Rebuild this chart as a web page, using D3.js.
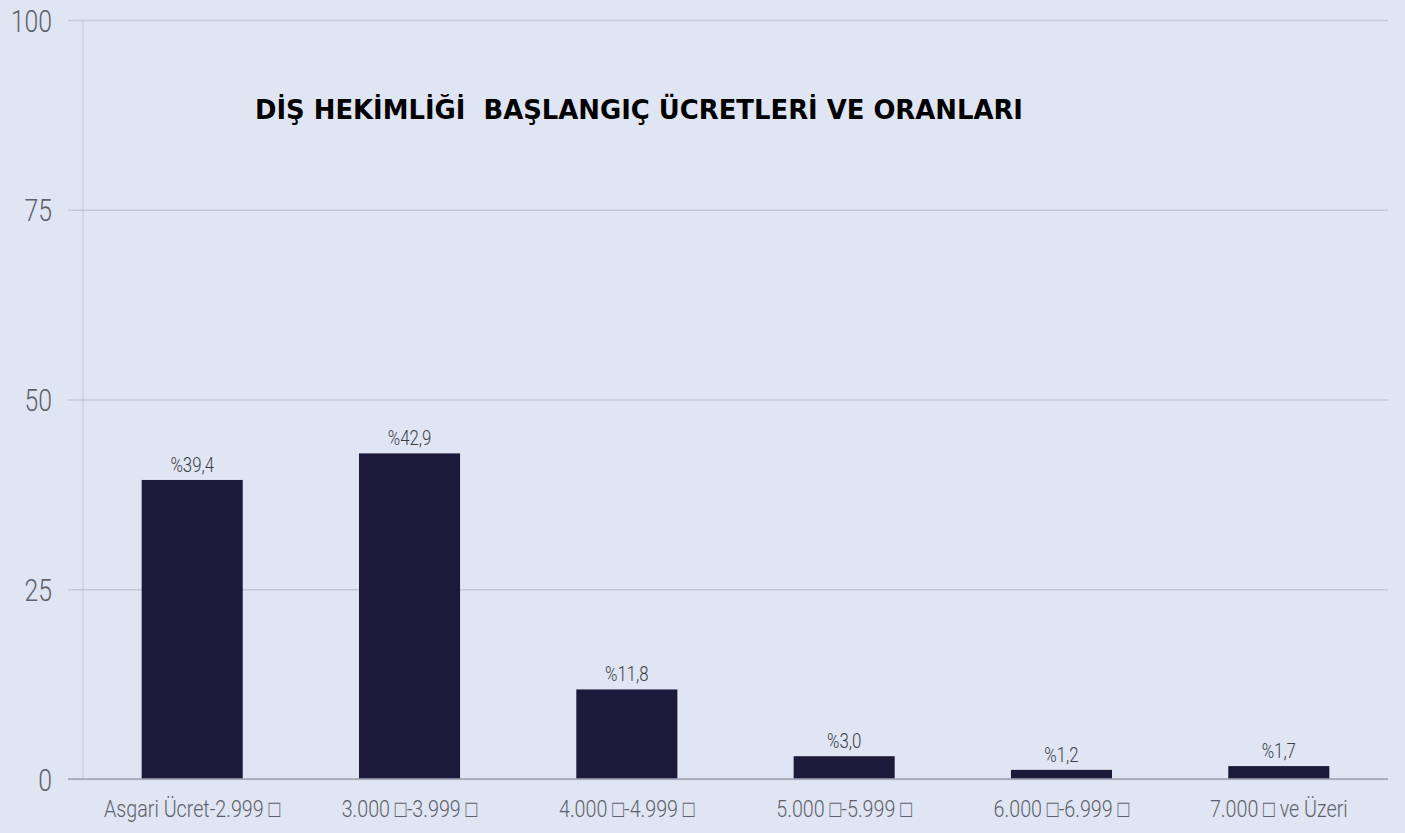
<!DOCTYPE html>
<html>
<head>
<meta charset="utf-8">
<script src="https://cdn.jsdelivr.net/npm/d3@7"></script>
<style>
	body { margin: 0; background: #dfe5f3; }
	svg { display: block; }
</style>
</head>
<body>
<svg id="chart-canvas" width="1405" height="833"></svg>
<script>
var canvasName = "chart-canvas";
var titleText = "DİŞ HEKİMLİĞİ  BAŞLANGIÇ ÜCRETLERİ VE ORANLARI";
var categories = ["Asgari Ücret-2.999 □", "3.000 □-3.999 □", "4.000 □-4.999 □",
					"5.000 □-5.999 □", "6.000 □-6.999 □", "7.000 □ ve Üzeri"];
var values = [39.4, 42.9, 11.8, 3.0, 1.2, 1.7];
var valueLabels = ["%39,4", "%42,9", "%11,8", "%3,0", "%1,2", "%1,7"];
var yTicks = [0, 25, 50, 75, 100];

var narrowFont = "'Liberation Sans Narrow', 'Roboto', sans-serif";

// no condensed face available, so squeeze the glyphs a bit
function Narrow(selection, factor) {
	selection.each(function() {
		var len = this.getComputedTextLength();
		d3.select(this)
			.attr("textLength", len * factor)
			.attr("lengthAdjust", "spacingAndGlyphs");
	});
}

function CreateBarChart(canvasName) {
	var svg = d3.select("#" + canvasName);
	var width = +svg.attr("width");
	var height = +svg.attr("height");
	var left = 83, right = 1388, top = 20, bottom = 779;

	svg.append("rect")
		.attr("width", width)
		.attr("height", height)
		.attr("fill", "#dfe5f3");

	var yScale = d3.scaleLinear()
		.domain([0, 100])
		.range([bottom, top]);

	var xScale = d3.scaleBand()
		.domain(categories)
		.range([left, right])
		.paddingInner(0.535)
		.paddingOuter(0.27);

	// grid lines
	var yAxis = d3.axisLeft(yScale)
		.tickValues(yTicks)
		.tickSize(-(right - left + 15))
		.tickPadding(16)
		.tickFormat(d3.format("d"));

	var gy = svg.append("g")
		.attr("transform", "translate(" + (left - 15) + ",0)")
		.call(yAxis);
	gy.select(".domain").remove();
	gy.selectAll(".tick line")
		.attr("stroke", "#c3c9d8")
		.attr("stroke-width", 1.5);
	gy.selectAll(".tick text")
		.attr("fill", "#5e6169")
		.attr("font-family", narrowFont)
		.attr("font-weight", 300)
		.attr("font-size", 31)
		.attr("dy", "0.36em")
		.call(Narrow, 0.8);

	// vertical axis line
	svg.append("line")
		.attr("x1", left).attr("x2", left)
		.attr("y1", yScale(100)).attr("y2", yScale(0))
		.attr("stroke", "#c3c9d8")
		.attr("stroke-width", 1);

	svg.append("g")
		.selectAll("rect")
		.data(values)
		.enter().append("rect")
			.attr("x", function(d, i) { return xScale(categories[i]); })
			.attr("y", function(d) { return yScale(d); })
			.attr("width", xScale.bandwidth())
			.attr("height", function(d) { return yScale(0) - yScale(d); })
			.attr("fill", "#1c1a3a");

	svg.append("g")
		.selectAll("text")
		.data(values)
		.enter().append("text")
			.attr("x", function(d, i) { return xScale(categories[i]) + xScale.bandwidth() / 2; })
			.attr("y", function(d) { return yScale(d) - 8; })
			.attr("text-anchor", "middle")
			.attr("fill", "#3a3c44")
			.attr("font-family", narrowFont)
			.attr("font-weight", 300)
			.attr("font-size", 21)
			.text(function(d, i) { return valueLabels[i]; })
			.call(Narrow, 0.8);

	// bottom axis
	var xAxis = d3.axisBottom(xScale)
		.tickSize(0)
		.tickPadding(21);

	var gx = svg.append("g")
		.attr("transform", "translate(0," + bottom + ")")
		.call(xAxis);
	gx.select(".domain").remove();
	gx.selectAll(".tick text")
		.attr("fill", "#5e6169")
		.attr("font-family", narrowFont)
		.attr("font-weight", 300)
		.attr("font-size", 24)
		.call(Narrow, 0.82);

	svg.append("line")
		.attr("x1", left - 15).attr("x2", right)
		.attr("y1", bottom).attr("y2", bottom)
		.attr("stroke", "#9ea3b0")
		.attr("stroke-width", 1.5);

	svg.append("text")
		.attr("x", 255)
		.attr("y", 119)
		.attr("fill", "#000")
		.attr("font-family", "'Comic Sans MS', 'DejaVu Sans', sans-serif")
		.attr("font-weight", "bold")
		.attr("font-size", 26)
		.attr("textLength", 768)
		.attr("lengthAdjust", "spacingAndGlyphs")
		.style("white-space", "pre")
		.text(titleText);
}

CreateBarChart(canvasName);
</script>
</body>
</html>
